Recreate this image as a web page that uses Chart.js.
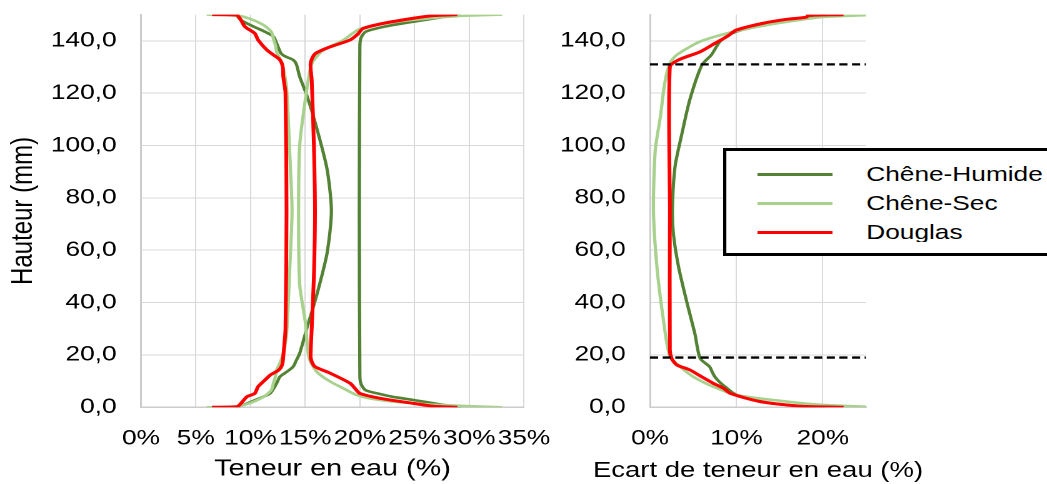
<!DOCTYPE html>
<html lang="fr">
<head>
<meta charset="utf-8">
<title>Teneur en eau</title>
<script src="https://cdn.jsdelivr.net/npm/chart.js@4.4.1/dist/chart.umd.min.js"></script>
<style>
  html, body { margin: 0; padding: 0; background: #fff; }
  body { width: 1047px; height: 484px; position: relative; overflow: hidden; }
  /* the reference is stretched horizontally, so everything is drawn narrower and scaled */
  #wrap { position: absolute; left: 0; top: 0; width: 838px; height: 484px; transform: scaleX(1.25); transform-origin: 0 0; }
  #left { position: absolute; left: 0; top: 0; }
  #right { position: absolute; left: 440px; top: 0; }
  #legend { position: absolute; left: 578px; top: 148px; width: 320px; height: 102px; border: 3px solid #000; background: #fff; }
  #legend .inner { position: absolute; left: 0; top: 0; right: 0; height: 91px; overflow: hidden; }
  #legend .swatch { position: absolute; left: 25px; width: 60px; height: 3px; }
  #legend .label { position: absolute; left: 112px; font: 21px/21px 'Liberation Sans', Arial, sans-serif; color: #000; white-space: nowrap; }
  #ecartTitle { position: absolute; top: 456px; width: 400px; text-align: center; font: 22px/27px 'Liberation Sans', Arial, sans-serif; color: #000; white-space: nowrap; }
</style>
</head>
<body>
<div id="wrap">
  <canvas id="left" width="460" height="484"></canvas>
  <canvas id="right" width="398" height="484"></canvas>
  <div id="ecartTitle"></div>
  <div id="legend"><div class="inner" id="legendInner"></div></div>
</div>
<script>
const especes = ['Chêne-Humide', 'Chêne-Sec', 'Douglas'];

const hauteurTicks = [0, 20, 40, 60, 80, 100, 120, 140];
const teneurTicks = [0, 5, 10, 15, 20, 25, 30, 35];
const ecartTicks = [0, 10, 20];
const limitesHauteur = [19, 131];

// [hauteur (mm), teneur en eau (%)]
const humideMin = [[0, 8.7], [1.5, 9.7], [3.4, 10.8], [5.3, 11.8], [9.2, 12.4], [11.7, 12.7], [13.5, 13.3],
  [15.5, 13.9], [18, 14.2], [20.6, 14.5], [30.8, 15.2], [43.5, 16.1], [58.8, 17.0], [75, 17.4], [91, 17.0],
  [106, 16.1], [118.6, 15.2], [126.3, 14.5], [131, 14.2], [132.7, 13.9], [134, 13.2], [135.2, 12.8],
  [139, 12.4], [141.6, 12.1], [143.5, 11.3], [145.4, 10.3], [148, 9.1], [150, 8.7]];
const humideMax = [[0, 29.2], [1, 27.5], [2.8, 24.9], [4, 23.0], [5.3, 21.6], [6.6, 20.5], [9, 20.1],
  [12, 20.0], [75, 19.95], [138, 20.0], [141, 20.1], [143.4, 20.5], [144.8, 21.6], [146, 23.0],
  [147.3, 24.9], [149, 27.5], [150, 29.2]];
const secMin = [[0, 6.0], [0.4, 8.8], [1.5, 9.9], [4, 11.2], [6.5, 11.9], [9.2, 12.1], [12, 12.3],
  [14.3, 12.4], [17, 12.7], [20.6, 13.0], [28, 13.3], [53.7, 13.6], [75, 13.8], [96.3, 13.6], [122, 13.3],
  [129.4, 13.0], [133, 12.7], [135.7, 12.4], [138, 12.3], [140.8, 12.1], [143.5, 11.9], [146, 11.2],
  [148.5, 9.9], [149.6, 8.8], [150, 6.0]];
const secMax = [[0, 33.0], [0.6, 28.9], [1.5, 24.9], [3, 21.5], [4.7, 19.7], [7, 18.6], [9.8, 17.3],
  [13, 16.2], [16.5, 15.6], [20, 15.3], [33, 15.0], [47, 14.5], [75, 14.4], [100, 14.5], [117, 15.0],
  [130, 15.5], [133.2, 15.9], [136.5, 16.7], [140.3, 18.5], [143, 19.4], [144.5, 20.0], [146.5, 22.0],
  [148, 24.9], [149.4, 28.9], [150, 33.0]];
const douglasMin = [[0, 6.5], [0.2, 8.75], [2.8, 9.4], [4.1, 9.7], [5.3, 10.4], [7.9, 10.7], [11.1, 11.5],
  [12.3, 11.8], [14.3, 12.6], [16.2, 12.9], [19.4, 13.0], [30, 13.2], [75, 13.3], [120, 13.2],
  [126.3, 13.0], [130.1, 12.95], [132.7, 12.7], [134.6, 12.1], [136.5, 11.5], [140.3, 10.7],
  [142.8, 10.4], [145.4, 9.5], [149.8, 8.75], [150, 6.5]];
const douglasMax = [[0, 28.9], [0.4, 26.7], [1.5, 24.9], [3.4, 21.9], [5.3, 20.0], [7, 19.6], [9.2, 19.1],
  [13, 17.3], [15.5, 15.9], [17.5, 15.6], [19.4, 15.5], [30, 15.6], [50, 15.8], [75, 15.9], [100, 15.8],
  [125, 15.6], [131.4, 15.5], [135, 15.9], [137.7, 17.3], [140.3, 19.1], [142.5, 19.8], [144.7, 20.3],
  [146.7, 22.2], [148.6, 24.9], [149.6, 26.7], [150, 28.9]];

// [hauteur (mm), écart de teneur en eau (%)]
const humideEcart = [[0, 20.3], [0.5, 17.5], [1.2, 15.0], [2.5, 12.5], [4, 10.5], [5.5, 9.6], [7.3, 8.9],
  [9.5, 8.1], [11.7, 7.5], [13.5, 7.2], [15.5, 6.9], [18.7, 5.8], [28, 5.2], [41, 4.2], [53.7, 3.3],
  [66.5, 2.7], [76.6, 2.6], [92, 2.9], [104.6, 3.7], [117.4, 4.6], [130.7, 6.0], [134.6, 7.1],
  [137.8, 7.7], [139.7, 8.1], [142.2, 9.1], [144, 10.5], [146, 13.2], [147.8, 16.5], [149.2, 19.5], [150, 20.3]];
const secEcart = [[0, 27.0], [0.9, 20.1], [2.2, 15.8], [4.7, 10.0], [7.9, 7.3], [11.7, 5.0], [15.5, 3.5],
  [19.4, 2.3], [34.6, 1.5], [53.7, 0.8], [75, 0.4], [98, 0.6], [111, 1.2], [123.7, 1.7], [131.4, 2.3],
  [134.6, 3.1], [139.7, 5.8], [143.5, 9.7], [146, 13.5], [148, 17.4], [149.1, 20.1], [150, 27.0]];
const douglasEcart = [[0, 22.4], [0.3, 18.1], [0.9, 15.8], [2.2, 12.7], [5.3, 9.3], [7.3, 8.5], [9.2, 7.3],
  [12, 5.8], [14.3, 4.6], [16.2, 3.1], [18.7, 2.5], [21.9, 2.3], [75, 2.3], [130, 2.3], [132.7, 3.3],
  [135.8, 5.8], [139, 7.5], [141.6, 8.9], [144.1, 10.0], [146.7, 13.1], [148.2, 15.8], [149, 18.1],
  [149.7, 18.3], [150, 22.4]];

const STYLE = {
  'Chêne-Humide': { color: '#548235', width: 2.6, order: 3 },
  'Chêne-Sec': { color: '#a9d18e', width: 2.6, order: 2 },
  'Douglas': { color: '#ff0000', width: 3, order: 1 }
};

Chart.defaults.font.family = "'Liberation Sans', Arial, sans-serif";
Chart.defaults.color = '#000';

function courbe(nom, arr) {
  const s = STYLE[nom];
  return {
    label: nom,
    data: arr.map(([h, v]) => ({ x: v, y: h })),
    showLine: true,
    borderColor: s.color,
    backgroundColor: s.color,
    borderWidth: s.width,
    pointRadius: 0,
    tension: 0.25,
    order: s.order
  };
}

function axes(o) {
  const grid = { color: '#d9d9d9', lineWidth: 1, drawTicks: false };
  const border = { color: '#cccccc', width: 1.5 };
  return {
    x: {
      type: 'linear', min: 0, max: o.xMax,
      afterBuildTicks: a => { a.ticks = o.xTicks.map(v => ({ value: v })); },
      afterFit: a => { a.height = 76.7; a.paddingLeft = 0; a.paddingRight = 0; },
      ticks: { autoSkip: false, maxRotation: 0, minRotation: 0, padding: 19, font: { size: 21 },
        callback: v => v + '%' },
      grid, border,
      title: { display: !!o.xTitle, text: o.xTitle || '', font: { size: 23 }, padding: { top: 0, bottom: 1 } }
    },
    y: {
      type: 'linear', min: 0, max: 150,
      afterBuildTicks: a => { a.ticks = hauteurTicks.map(v => ({ value: v })); },
      afterFit: a => { a.width = o.yWidth; a.paddingTop = 0; a.paddingBottom = 0; },
      ticks: { autoSkip: false, padding: 19.5, font: { size: 21 },
        callback: v => v.toFixed(1).replace('.', ',') },
      grid, border,
      title: { display: !!o.yTitle, text: o.yTitle || '', font: { size: 24 }, padding: { top: 4.5, bottom: 0 } }
    }
  };
}

const common = {
  responsive: false,
  animation: false,
  devicePixelRatio: 2,
  plugins: { legend: { display: false }, tooltip: { enabled: false } }
};

new Chart(document.getElementById('left'), {
  type: 'scatter',
  data: {
    datasets: [
      courbe('Chêne-Humide', humideMin), courbe('Chêne-Humide', humideMax),
      courbe('Chêne-Sec', secMin), courbe('Chêne-Sec', secMax),
      courbe('Douglas', douglasMin), courbe('Douglas', douglasMax)
    ]
  },
  options: {
    ...common,
    layout: { padding: { left: 0, right: 40.8, top: 14.6, bottom: 0 } },
    scales: axes({ xMax: 35, xTicks: teneurTicks, xTitle: 'Teneur en eau (%)', yWidth: 112.8, yTitle: 'Hauteur (mm)' })
  }
});

const ecartMax = 25;
const droite = new Chart(document.getElementById('right'), {
  type: 'scatter',
  data: {
    datasets: [
      courbe('Chêne-Humide', humideEcart),
      courbe('Chêne-Sec', secEcart),
      courbe('Douglas', douglasEcart),
      ...limitesHauteur.map(h => ({
        data: [{ x: 0, y: h }, { x: ecartMax, y: h }],
        showLine: true, borderColor: '#000', borderWidth: 2.3, borderDash: [6.5, 3.6],
        pointRadius: 0, order: 0
      }))
    ]
  },
  options: {
    ...common,
    layout: { padding: { left: 0, right: 145.2, top: 14.6, bottom: 0 } },
    scales: axes({ xMax: ecartMax, xTicks: ecartTicks, yWidth: 80 })
  }
});

// the axis title is wider than this small plot, Chart.js would squeeze it, so it is set as HTML text
const titre = document.getElementById('ecartTitle');
titre.textContent = 'Ecart de teneur en eau (%)';
const ca = droite.chartArea;
titre.style.left = (440 + (ca.left + ca.right) / 2 - 200) + 'px';

// legend box (drawn as HTML, like the boxed legend of the reference)
const inner = document.getElementById('legendInner');
especes.forEach((nom, i) => {
  const sw = document.createElement('div');
  sw.className = 'swatch';
  sw.style.top = (21.8 + i * 29) + 'px';
  sw.style.background = STYLE[nom].color;
  inner.appendChild(sw);
  const lb = document.createElement('div');
  lb.className = 'label';
  lb.style.top = (12 + i * 29.2) + 'px';
  lb.textContent = nom;
  inner.appendChild(lb);
});
</script>
</body>
</html>
